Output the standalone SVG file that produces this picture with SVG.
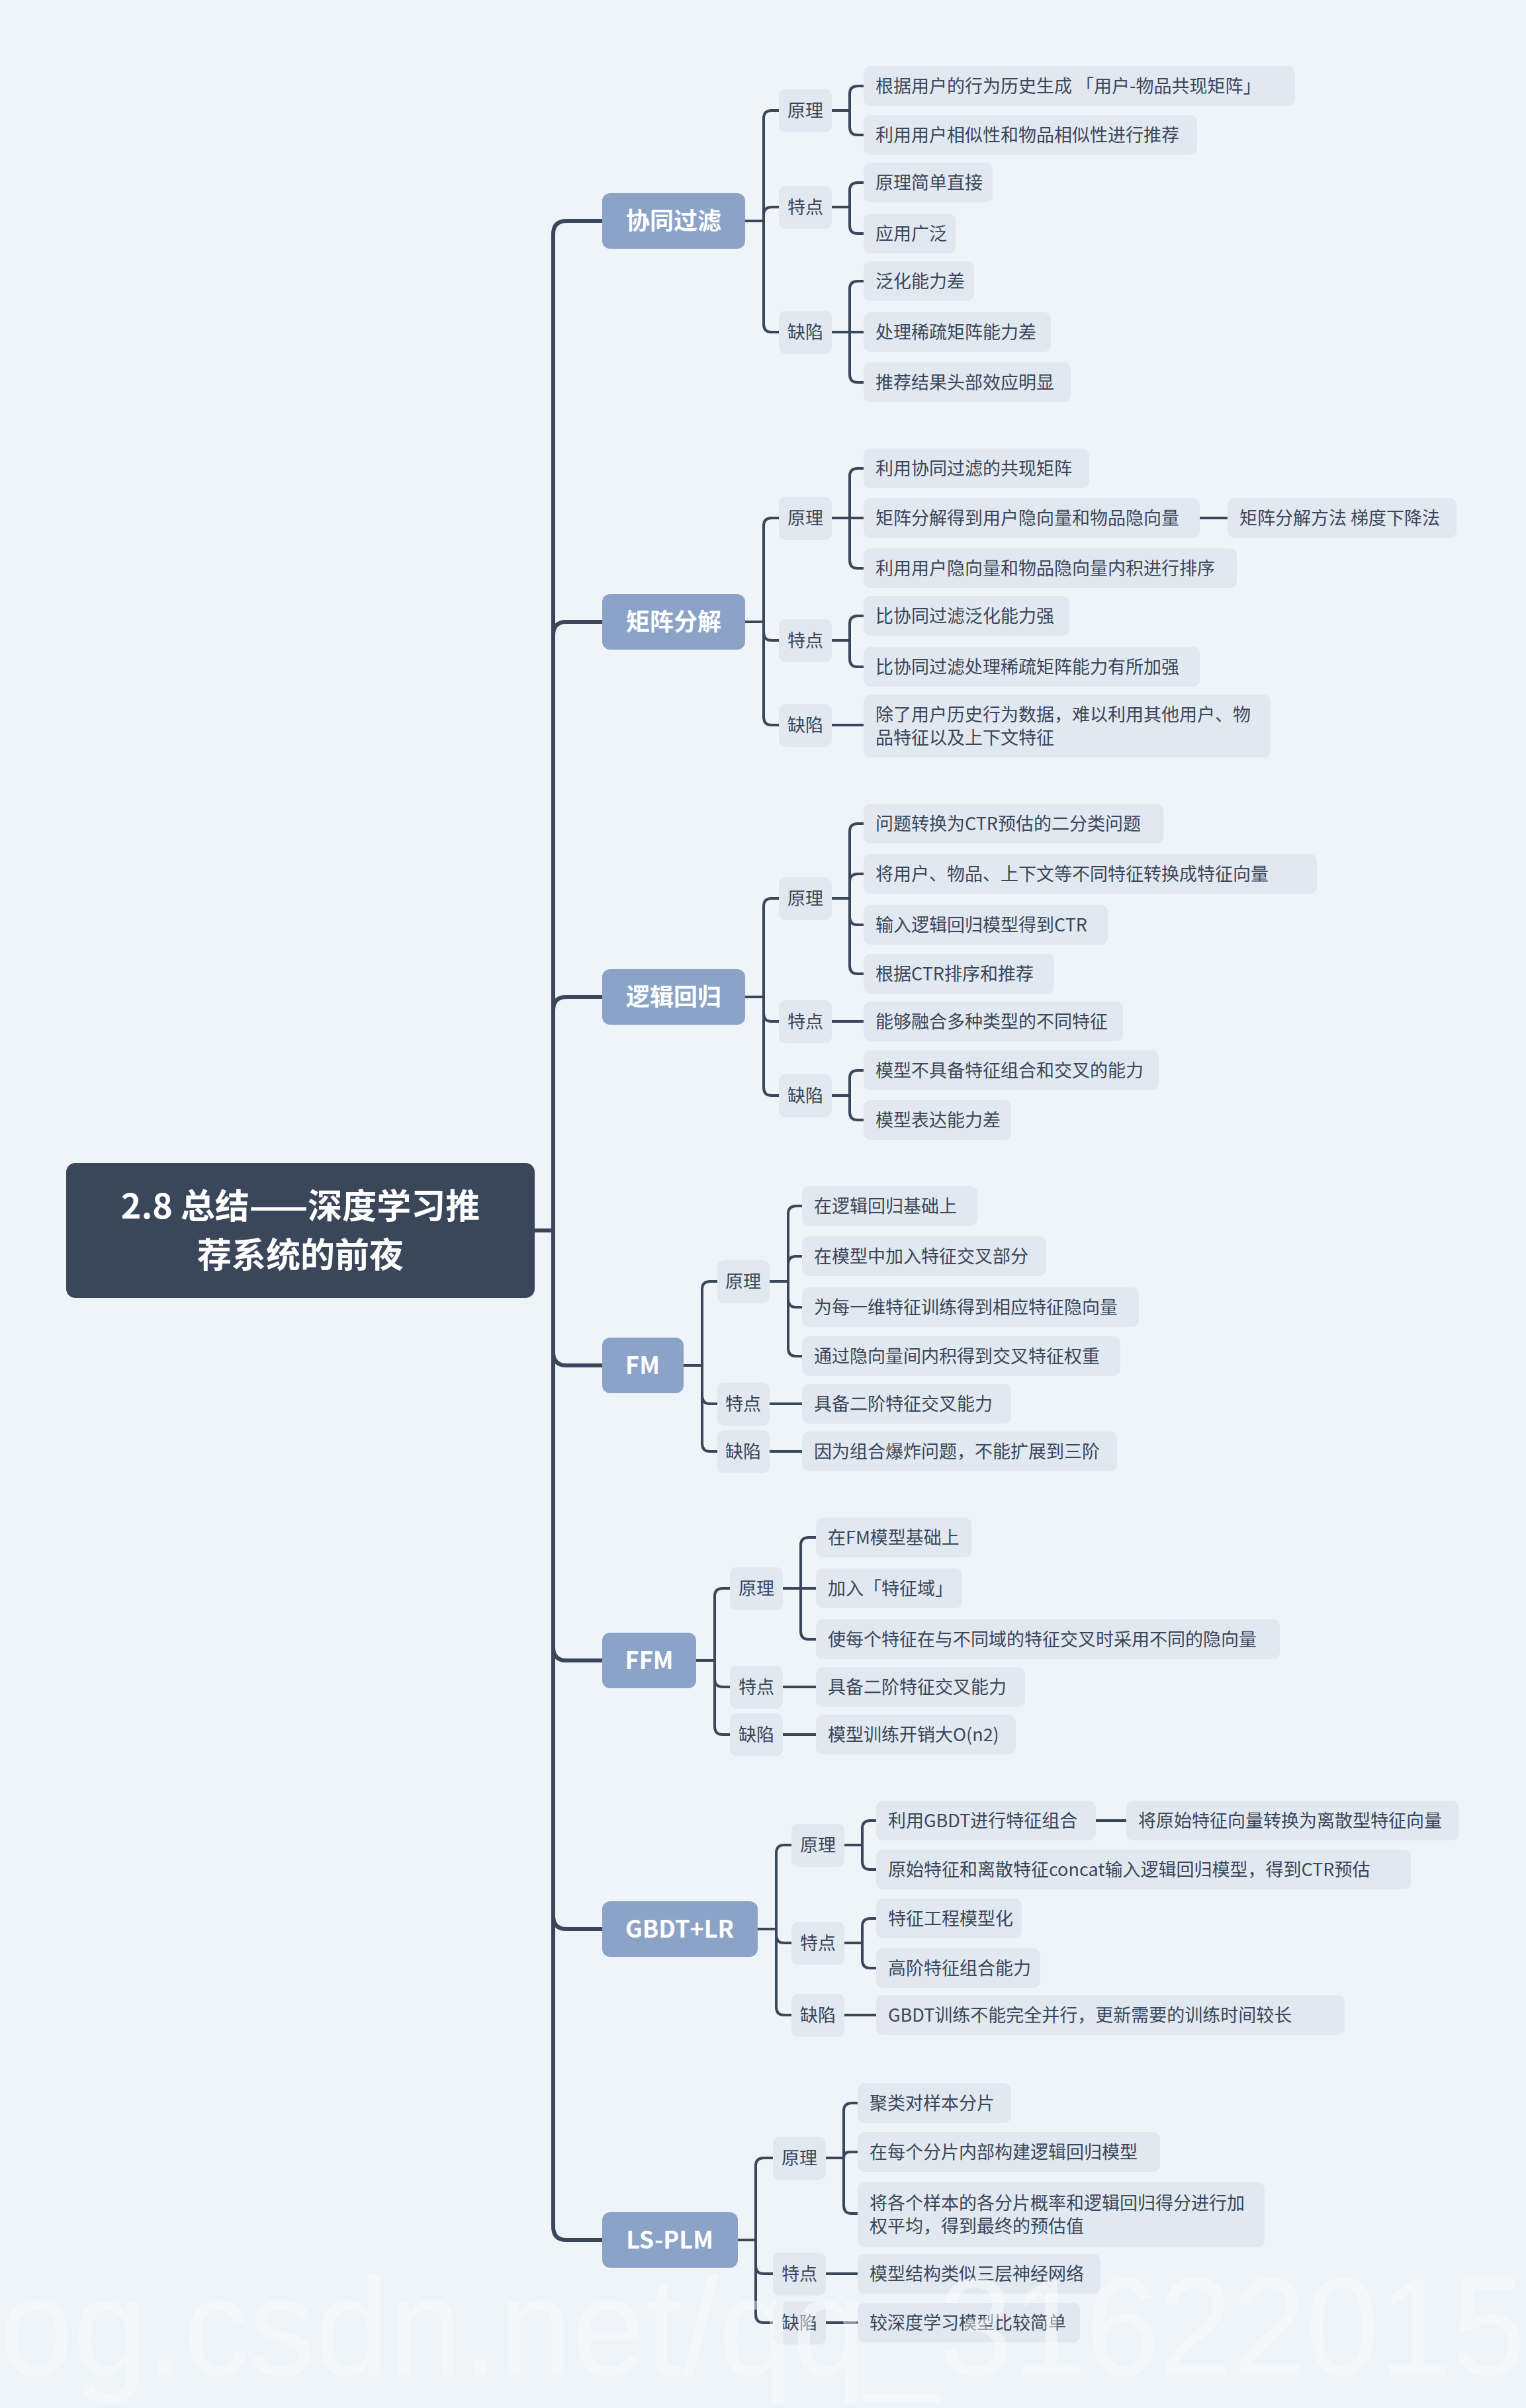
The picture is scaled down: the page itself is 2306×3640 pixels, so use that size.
<svg xmlns="http://www.w3.org/2000/svg" width="2306" height="3640" viewBox="0 0 2306 3640">
<style>
.bg{fill:#eef4f8}
.root{fill:#3a4659}
.rt{fill:#fff;font-family:"Noto Sans CJK SC",sans-serif;font-weight:bold;font-size:52px;text-anchor:middle}
.b1{fill:#8aa3c7}
.t1{fill:#fff;font-family:"Noto Sans CJK SC",sans-serif;font-weight:bold;font-size:36px;text-anchor:middle}
.b2{fill:#e2e8f0}
.t2{fill:#3a4659;font-family:"Noto Sans CJK SC",sans-serif;font-size:27px;text-anchor:middle}
.t3{fill:#3a4659;font-family:"Noto Sans CJK SC",sans-serif;font-size:27px}
.c{fill:none;stroke:#3a4659;stroke-width:4}
.ct{fill:none;stroke:#3a4659;stroke-width:6}
.wm{fill:#fff;opacity:0.45;font-family:"Liberation Sans",sans-serif;font-size:210px}
</style>
<rect class="bg" x="0" y="0" width="2306" height="3640"/>
<g id="connectors">
<path class="ct" d="M808,1860 H836 V354 Q836,334 856,334 H910 M836,1860 V960 Q836,940 856,940 H910 M836,1860 V1527 Q836,1507 856,1507 H910 M836,1860 V2044 Q836,2064 856,2064 H910 M836,1860 V2490 Q836,2510 856,2510 H910 M836,1860 V2896 Q836,2916 856,2916 H910 M836,1860 V3366 Q836,3386 856,3386 H910"/>
<path class="c" d="M1126,334 H1154 V179 Q1154,167 1166,167 H1177 M1154,334 V325 Q1154,313 1166,313 H1177 M1154,334 V490 Q1154,502 1166,502 H1177
M1257,167 H1284 V142 Q1284,130 1296,130 H1305 M1284,167 V192 Q1284,204 1296,204 H1305
M1257,313 H1284 V288 Q1284,276 1296,276 H1305 M1284,313 V341 Q1284,353 1296,353 H1305
M1257,502 H1284 V437 Q1284,425 1296,425 H1305 M1284,502 H1305 M1284,502 V566 Q1284,578 1296,578 H1305"/>
<path class="c" d="M1126,940 H1154 V795 Q1154,783 1166,783 H1177 M1154,940 V956 Q1154,968 1166,968 H1177 M1154,940 V1084 Q1154,1096 1166,1096 H1177
M1257,783 H1284 V720 Q1284,708 1296,708 H1305 M1284,783 H1305 M1284,783 V847 Q1284,859 1296,859 H1305 M1813,783 H1855
M1257,968 H1284 V943 Q1284,931 1296,931 H1305 M1284,968 V996 Q1284,1008 1296,1008 H1305
M1257,1096 H1305"/>
<path class="c" d="M1126,1507 H1154 V1370 Q1154,1358 1166,1358 H1177 M1154,1507 V1532 Q1154,1544 1166,1544 H1177 M1154,1507 V1644 Q1154,1656 1166,1656 H1177
M1257,1358 H1284 V1257 Q1284,1245 1296,1245 H1305 M1284,1358 V1333 Q1284,1321 1296,1321 H1305 M1284,1358 V1386 Q1284,1398 1296,1398 H1305 M1284,1358 V1460 Q1284,1472 1296,1472 H1305
M1257,1544 H1305
M1257,1656 H1284 V1630 Q1284,1618 1296,1618 H1305 M1284,1656 V1681 Q1284,1693 1296,1693 H1305"/>
<path class="c" d="M1033,2064 H1061 V1949 Q1061,1937 1073,1937 H1084 M1061,2064 V2110 Q1061,2122 1073,2122 H1084 M1061,2064 V2182 Q1061,2194 1073,2194 H1084
M1163,1937 H1191 V1835 Q1191,1823 1203,1823 H1212 M1191,1937 V1911 Q1191,1899 1203,1899 H1212 M1191,1937 V1964 Q1191,1976 1203,1976 H1212 M1191,1937 V2038 Q1191,2050 1203,2050 H1212
M1163,2122 H1212 M1163,2194 H1212"/>
<path class="c" d="M1052,2510 H1080 V2413 Q1080,2401 1092,2401 H1103 M1080,2510 V2538 Q1080,2550 1092,2550 H1103 M1080,2510 V2610 Q1080,2622 1092,2622 H1103
M1183,2401 H1210 V2336 Q1210,2324 1222,2324 H1233 M1210,2401 H1233 M1210,2401 V2466 Q1210,2478 1222,2478 H1233
M1183,2550 H1233 M1183,2622 H1233"/>
<path class="c" d="M1145,2916 H1173 V2801 Q1173,2789 1185,2789 H1196 M1173,2916 V2925 Q1173,2937 1185,2937 H1196 M1173,2916 V3034 Q1173,3046 1185,3046 H1196
M1276,2789 H1303 V2764 Q1303,2752 1315,2752 H1324 M1303,2789 V2814 Q1303,2826 1315,2826 H1324 M1656,2752 H1702
M1276,2937 H1303 V2912 Q1303,2900 1315,2900 H1324 M1303,2937 V2963 Q1303,2975 1315,2975 H1324
M1276,3046 H1324"/>
<path class="c" d="M1115,3386 H1142 V3274 Q1142,3262 1154,3262 H1168 M1142,3386 V3425 Q1142,3437 1154,3437 H1168 M1142,3386 V3499 Q1142,3511 1154,3511 H1168
M1248,3262 H1275 V3191 Q1275,3179 1287,3179 H1296 M1275,3262 Q1275,3253 1284,3253 H1296 M1275,3262 V3334 Q1275,3346 1287,3346 H1296
M1248,3437 H1296 M1248,3511 H1296"/>
</g>
<g id="root"><rect class="root" x="100" y="1758" width="708" height="204" rx="14"/><text class="rt" x="454" y="1842">2.8 总结——深度学习推</text><text class="rt" x="454" y="1916">荐系统的前夜</text></g>

<g id="n-cf"><rect class="b1" x="910" y="292" width="216" height="84" rx="12"/><text class="t1" x="1018" y="347">协同过滤</text></g>
<g id="n-cf-1"><rect class="b2" x="1177" y="135" width="80" height="65" rx="10"/><text class="t2" x="1217" y="177">原理</text></g>
<g id="n-cf-1a"><rect class="b2" x="1305" y="100" width="652" height="60" rx="10"/><text class="t3" x="1323" y="140">根据用户的行为历史生成 「用户-物品共现矩阵」</text></g>
<g id="n-cf-1b"><rect class="b2" x="1305" y="174" width="504" height="60" rx="10"/><text class="t3" x="1323" y="214">利用用户相似性和物品相似性进行推荐</text></g>
<g id="n-cf-2"><rect class="b2" x="1177" y="281" width="80" height="65" rx="10"/><text class="t2" x="1217" y="323">特点</text></g>
<g id="n-cf-2a"><rect class="b2" x="1305" y="246" width="195" height="60" rx="10"/><text class="t3" x="1323" y="286">原理简单直接</text></g>
<g id="n-cf-2b"><rect class="b2" x="1305" y="323" width="139" height="60" rx="10"/><text class="t3" x="1323" y="363">应用广泛</text></g>
<g id="n-cf-3"><rect class="b2" x="1177" y="470" width="80" height="65" rx="10"/><text class="t2" x="1217" y="512">缺陷</text></g>
<g id="n-cf-3a"><rect class="b2" x="1305" y="395" width="167" height="60" rx="10"/><text class="t3" x="1323" y="435">泛化能力差</text></g>
<g id="n-cf-3b"><rect class="b2" x="1305" y="472" width="283" height="60" rx="10"/><text class="t3" x="1323" y="512">处理稀疏矩阵能力差</text></g>
<g id="n-cf-3c"><rect class="b2" x="1305" y="548" width="313" height="60" rx="10"/><text class="t3" x="1323" y="588">推荐结果头部效应明显</text></g>

<g id="n-mf"><rect class="b1" x="910" y="898" width="216" height="84" rx="12"/><text class="t1" x="1018" y="953">矩阵分解</text></g>
<g id="n-mf-1"><rect class="b2" x="1177" y="751" width="80" height="65" rx="10"/><text class="t2" x="1217" y="793">原理</text></g>
<g id="n-mf-1a"><rect class="b2" x="1305" y="678" width="341" height="60" rx="10"/><text class="t3" x="1323" y="718">利用协同过滤的共现矩阵</text></g>
<g id="n-mf-1b"><rect class="b2" x="1305" y="753" width="508" height="60" rx="10"/><text class="t3" x="1323" y="793">矩阵分解得到用户隐向量和物品隐向量</text></g>
<g id="n-mf-1b1"><rect class="b2" x="1855" y="753" width="346" height="60" rx="10"/><text class="t3" x="1873" y="793">矩阵分解方法 梯度下降法</text></g>
<g id="n-mf-1c"><rect class="b2" x="1305" y="829" width="564" height="60" rx="10"/><text class="t3" x="1323" y="869">利用用户隐向量和物品隐向量内积进行排序</text></g>
<g id="n-mf-2"><rect class="b2" x="1177" y="936" width="80" height="65" rx="10"/><text class="t2" x="1217" y="978">特点</text></g>
<g id="n-mf-2a"><rect class="b2" x="1305" y="901" width="311" height="60" rx="10"/><text class="t3" x="1323" y="941">比协同过滤泛化能力强</text></g>
<g id="n-mf-2b"><rect class="b2" x="1305" y="978" width="508" height="60" rx="10"/><text class="t3" x="1323" y="1018">比协同过滤处理稀疏矩阵能力有所加强</text></g>
<g id="n-mf-3"><rect class="b2" x="1177" y="1064" width="80" height="65" rx="10"/><text class="t2" x="1217" y="1106">缺陷</text></g>
<g id="n-mf-3a"><rect class="b2" x="1305" y="1050" width="615" height="95" rx="10"/><text class="t3" x="1323" y="1090">除了用户历史行为数据，难以利用其他用户、物</text><text class="t3" x="1323" y="1125">品特征以及上下文特征</text></g>

<g id="n-lr"><rect class="b1" x="910" y="1465" width="216" height="84" rx="12"/><text class="t1" x="1018" y="1520">逻辑回归</text></g>
<g id="n-lr-1"><rect class="b2" x="1177" y="1326" width="80" height="65" rx="10"/><text class="t2" x="1217" y="1368">原理</text></g>
<g id="n-lr-1a"><rect class="b2" x="1305" y="1215" width="453" height="60" rx="10"/><text class="t3" x="1323" y="1255">问题转换为CTR预估的二分类问题</text></g>
<g id="n-lr-1b"><rect class="b2" x="1305" y="1291" width="685" height="60" rx="10"/><text class="t3" x="1323" y="1331">将用户、物品、上下文等不同特征转换成特征向量</text></g>
<g id="n-lr-1c"><rect class="b2" x="1305" y="1368" width="369" height="60" rx="10"/><text class="t3" x="1323" y="1408">输入逻辑回归模型得到CTR</text></g>
<g id="n-lr-1d"><rect class="b2" x="1305" y="1442" width="288" height="60" rx="10"/><text class="t3" x="1323" y="1482">根据CTR排序和推荐</text></g>
<g id="n-lr-2"><rect class="b2" x="1177" y="1512" width="80" height="65" rx="10"/><text class="t2" x="1217" y="1554">特点</text></g>
<g id="n-lr-2a"><rect class="b2" x="1305" y="1514" width="392" height="60" rx="10"/><text class="t3" x="1323" y="1554">能够融合多种类型的不同特征</text></g>
<g id="n-lr-3"><rect class="b2" x="1177" y="1624" width="80" height="65" rx="10"/><text class="t2" x="1217" y="1666">缺陷</text></g>
<g id="n-lr-3a"><rect class="b2" x="1305" y="1588" width="446" height="60" rx="10"/><text class="t3" x="1323" y="1628">模型不具备特征组合和交叉的能力</text></g>
<g id="n-lr-3b"><rect class="b2" x="1305" y="1663" width="223" height="60" rx="10"/><text class="t3" x="1323" y="1703">模型表达能力差</text></g>

<g id="n-fm"><rect class="b1" x="910" y="2022" width="123" height="84" rx="12"/><text class="t1" x="971" y="2077">FM</text></g>
<g id="n-fm-1"><rect class="b2" x="1084" y="1905" width="79" height="65" rx="10"/><text class="t2" x="1123" y="1947">原理</text></g>
<g id="n-fm-1a"><rect class="b2" x="1212" y="1793" width="265" height="60" rx="10"/><text class="t3" x="1230" y="1833">在逻辑回归基础上</text></g>
<g id="n-fm-1b"><rect class="b2" x="1212" y="1869" width="369" height="60" rx="10"/><text class="t3" x="1230" y="1909">在模型中加入特征交叉部分</text></g>
<g id="n-fm-1c"><rect class="b2" x="1212" y="1946" width="509" height="60" rx="10"/><text class="t3" x="1230" y="1986">为每一维特征训练得到相应特征隐向量</text></g>
<g id="n-fm-1d"><rect class="b2" x="1212" y="2020" width="481" height="60" rx="10"/><text class="t3" x="1230" y="2060">通过隐向量间内积得到交叉特征权重</text></g>
<g id="n-fm-2"><rect class="b2" x="1084" y="2090" width="79" height="65" rx="10"/><text class="t2" x="1123" y="2132">特点</text></g>
<g id="n-fm-2a"><rect class="b2" x="1212" y="2092" width="316" height="60" rx="10"/><text class="t3" x="1230" y="2132">具备二阶特征交叉能力</text></g>
<g id="n-fm-3"><rect class="b2" x="1084" y="2162" width="79" height="65" rx="10"/><text class="t2" x="1123" y="2204">缺陷</text></g>
<g id="n-fm-3a"><rect class="b2" x="1212" y="2164" width="476" height="60" rx="10"/><text class="t3" x="1230" y="2204">因为组合爆炸问题，不能扩展到三阶</text></g>

<g id="n-ffm"><rect class="b1" x="910" y="2468" width="142" height="84" rx="12"/><text class="t1" x="981" y="2523">FFM</text></g>
<g id="n-ffm-1"><rect class="b2" x="1103" y="2369" width="80" height="65" rx="10"/><text class="t2" x="1143" y="2411">原理</text></g>
<g id="n-ffm-1a"><rect class="b2" x="1233" y="2294" width="235" height="60" rx="10"/><text class="t3" x="1251" y="2334">在FM模型基础上</text></g>
<g id="n-ffm-1b"><rect class="b2" x="1233" y="2371" width="221" height="60" rx="10"/><text class="t3" x="1251" y="2411">加入「特征域」</text></g>
<g id="n-ffm-1c"><rect class="b2" x="1233" y="2448" width="701" height="60" rx="10"/><text class="t3" x="1251" y="2488">使每个特征在与不同域的特征交叉时采用不同的隐向量</text></g>
<g id="n-ffm-2"><rect class="b2" x="1103" y="2518" width="80" height="65" rx="10"/><text class="t2" x="1143" y="2560">特点</text></g>
<g id="n-ffm-2a"><rect class="b2" x="1233" y="2520" width="316" height="60" rx="10"/><text class="t3" x="1251" y="2560">具备二阶特征交叉能力</text></g>
<g id="n-ffm-3"><rect class="b2" x="1103" y="2590" width="80" height="65" rx="10"/><text class="t2" x="1143" y="2632">缺陷</text></g>
<g id="n-ffm-3a"><rect class="b2" x="1233" y="2592" width="302" height="60" rx="10"/><text class="t3" x="1251" y="2632">模型训练开销大O(n2)</text></g>

<g id="n-gbdt"><rect class="b1" x="910" y="2874" width="235" height="84" rx="12"/><text class="t1" x="1027" y="2929">GBDT+LR</text></g>
<g id="n-gbdt-1"><rect class="b2" x="1196" y="2757" width="80" height="65" rx="10"/><text class="t2" x="1236" y="2799">原理</text></g>
<g id="n-gbdt-1a"><rect class="b2" x="1324" y="2722" width="332" height="60" rx="10"/><text class="t3" x="1342" y="2762">利用GBDT进行特征组合</text></g>
<g id="n-gbdt-1a1"><rect class="b2" x="1702" y="2722" width="502" height="60" rx="10"/><text class="t3" x="1720" y="2762">将原始特征向量转换为离散型特征向量</text></g>
<g id="n-gbdt-1b"><rect class="b2" x="1324" y="2796" width="808" height="60" rx="10"/><text class="t3" x="1342" y="2836">原始特征和离散特征concat输入逻辑回归模型，得到CTR预估</text></g>
<g id="n-gbdt-2"><rect class="b2" x="1196" y="2905" width="80" height="65" rx="10"/><text class="t2" x="1236" y="2947">特点</text></g>
<g id="n-gbdt-2a"><rect class="b2" x="1324" y="2870" width="220" height="60" rx="10"/><text class="t3" x="1342" y="2910">特征工程模型化</text></g>
<g id="n-gbdt-2b"><rect class="b2" x="1324" y="2945" width="248" height="60" rx="10"/><text class="t3" x="1342" y="2985">高阶特征组合能力</text></g>
<g id="n-gbdt-3"><rect class="b2" x="1196" y="3014" width="80" height="65" rx="10"/><text class="t2" x="1236" y="3056">缺陷</text></g>
<g id="n-gbdt-3a"><rect class="b2" x="1324" y="3016" width="708" height="60" rx="10"/><text class="t3" x="1342" y="3056">GBDT训练不能完全并行，更新需要的训练时间较长</text></g>

<g id="n-ls"><rect class="b1" x="910" y="3344" width="205" height="84" rx="12"/><text class="t1" x="1012" y="3399">LS-PLM</text></g>
<g id="n-ls-1"><rect class="b2" x="1168" y="3230" width="80" height="65" rx="10"/><text class="t2" x="1208" y="3272">原理</text></g>
<g id="n-ls-1a"><rect class="b2" x="1296" y="3149" width="232" height="60" rx="10"/><text class="t3" x="1314" y="3189">聚类对样本分片</text></g>
<g id="n-ls-1b"><rect class="b2" x="1296" y="3223" width="457" height="60" rx="10"/><text class="t3" x="1314" y="3263">在每个分片内部构建逻辑回归模型</text></g>
<g id="n-ls-1c"><rect class="b2" x="1296" y="3299" width="615" height="98" rx="10"/><text class="t3" x="1314" y="3340">将各个样本的各分片概率和逻辑回归得分进行加</text><text class="t3" x="1314" y="3375">权平均，得到最终的预估值</text></g>
<g id="n-ls-2"><rect class="b2" x="1168" y="3405" width="80" height="65" rx="10"/><text class="t2" x="1208" y="3447">特点</text></g>
<g id="n-ls-2a"><rect class="b2" x="1296" y="3407" width="367" height="60" rx="10"/><text class="t3" x="1314" y="3447">模型结构类似三层神经网络</text></g>
<g id="n-ls-3"><rect class="b2" x="1168" y="3479" width="80" height="65" rx="10"/><text class="t2" x="1208" y="3521">缺陷</text></g>
<g id="n-ls-3a"><rect class="b2" x="1296" y="3481" width="336" height="60" rx="10"/><text class="t3" x="1314" y="3521">较深度学习模型比较简单</text></g>

<text class="wm" x="0" y="3590" textLength="2306" lengthAdjust="spacingAndGlyphs">og.csdn.net/qq_31622015</text>
</svg>
